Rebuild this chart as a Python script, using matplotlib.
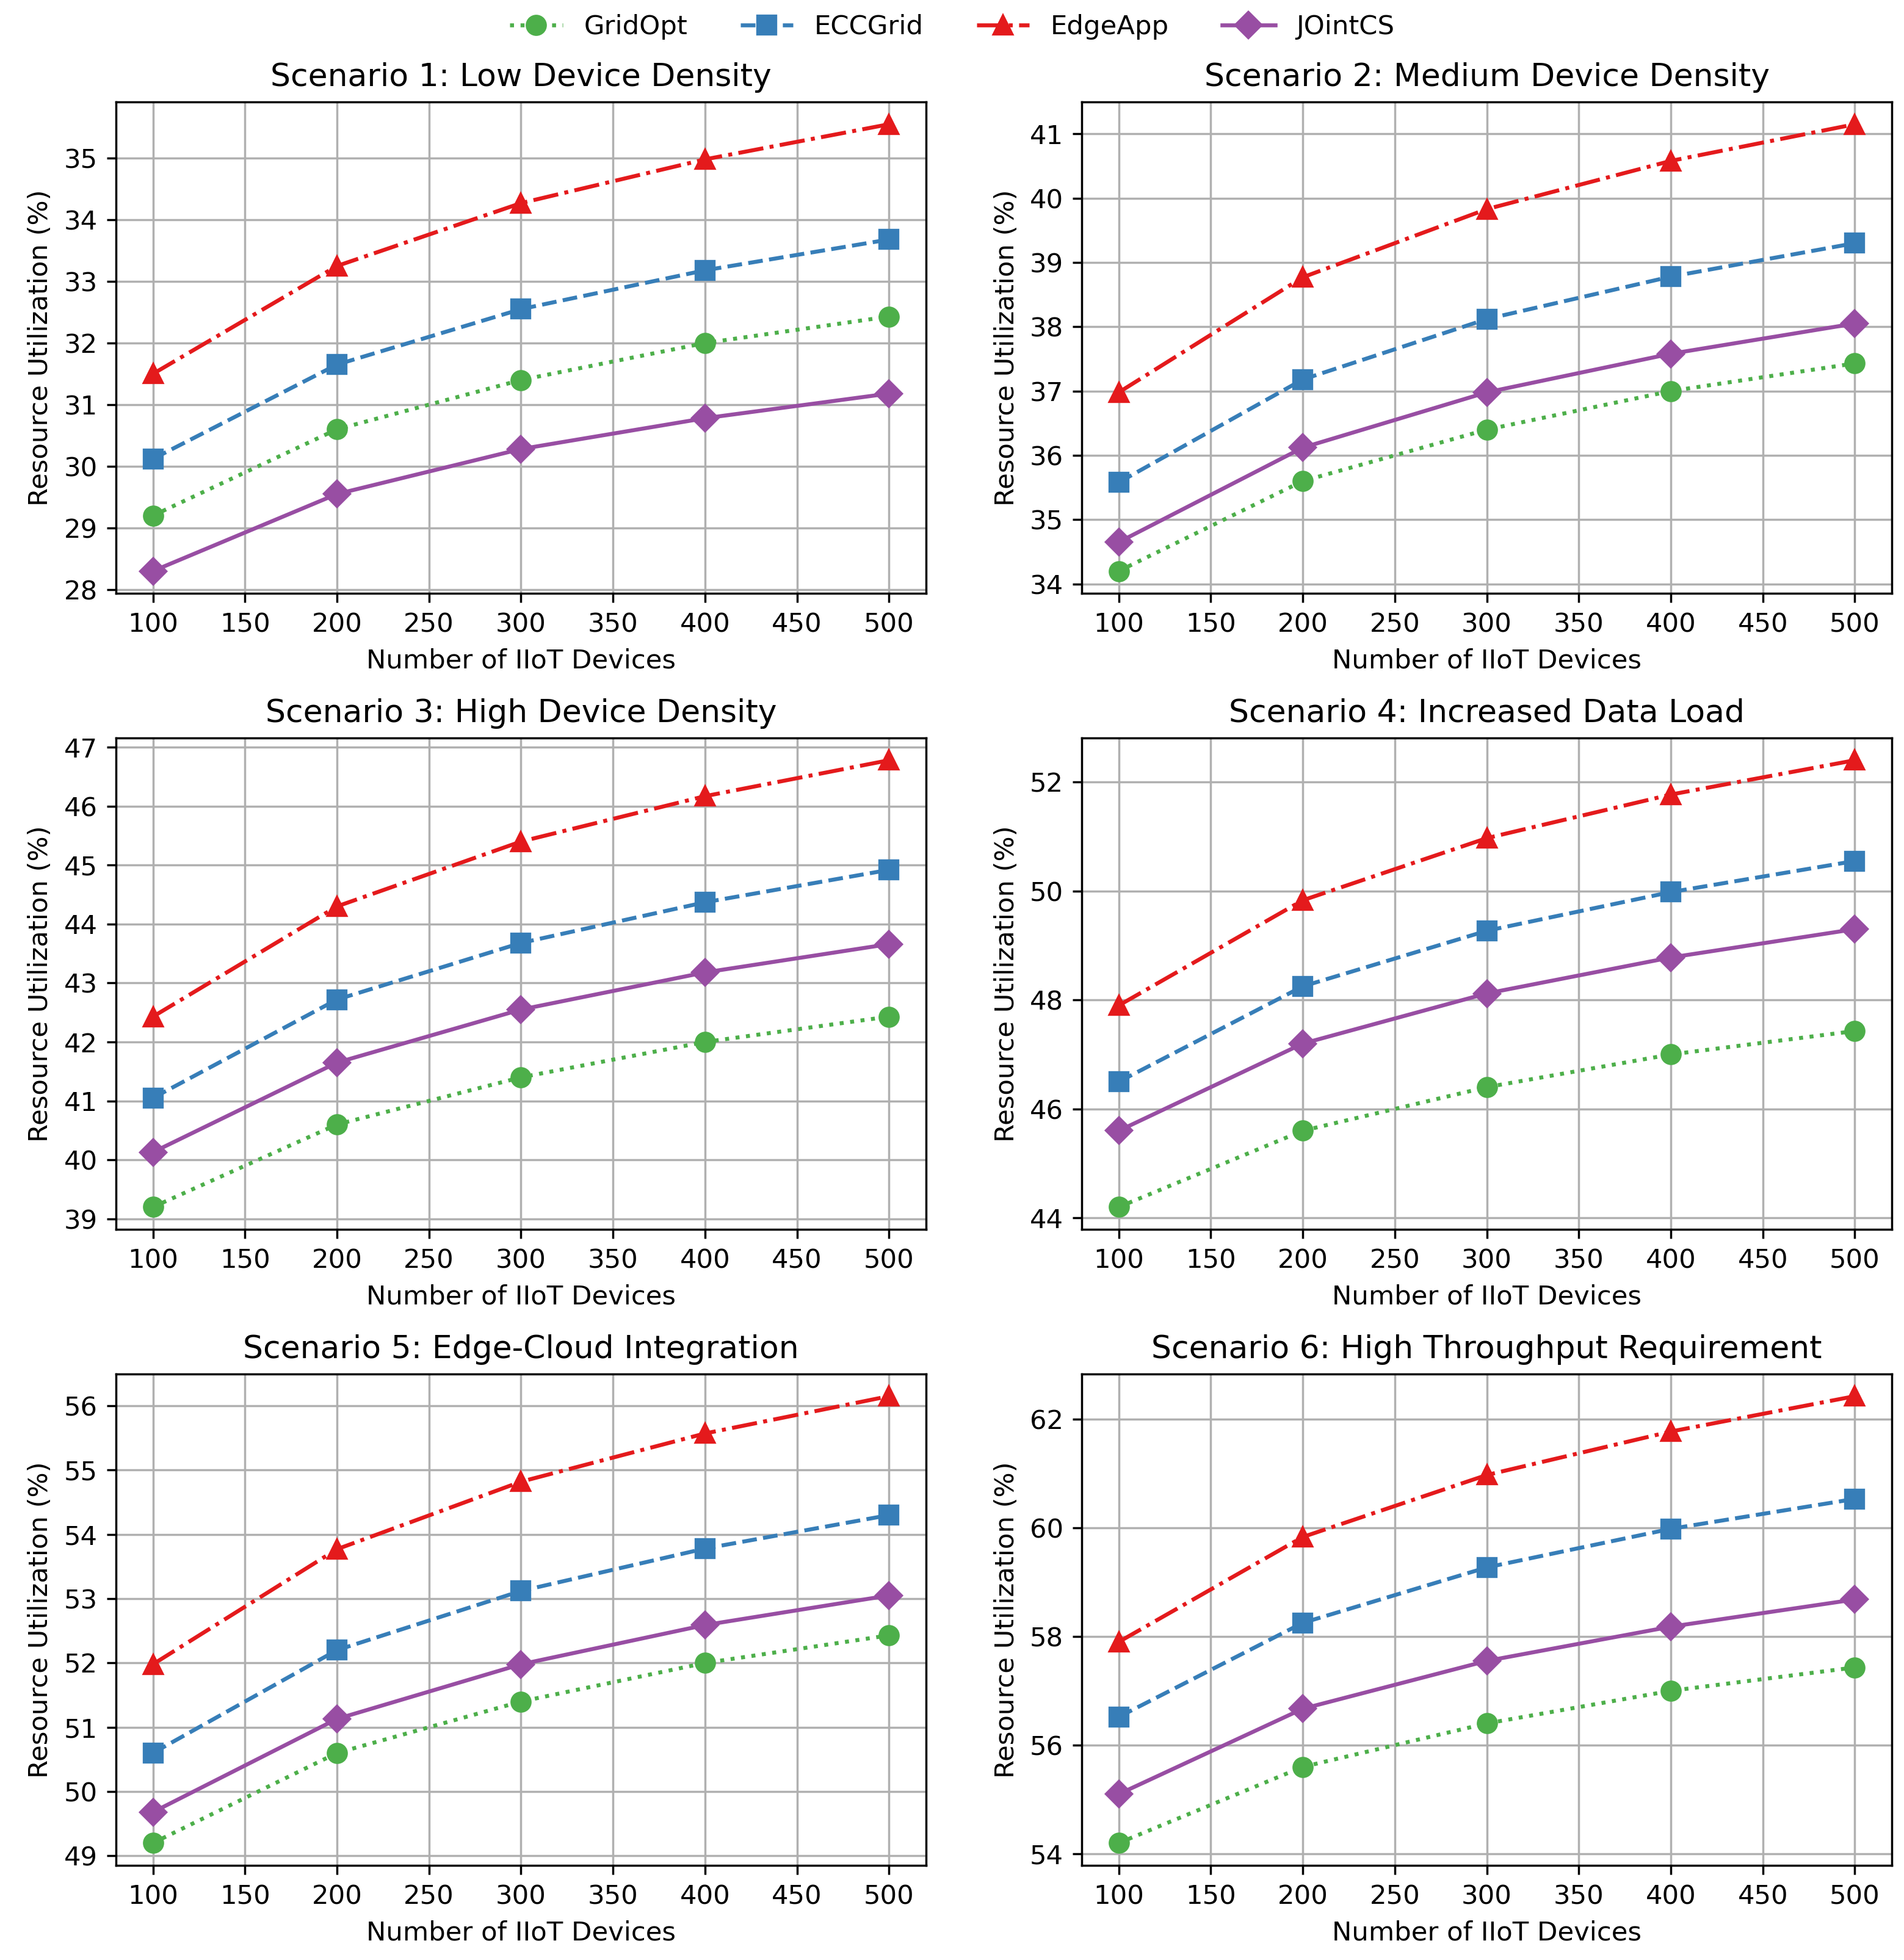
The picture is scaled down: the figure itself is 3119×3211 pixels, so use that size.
import numpy as np
import matplotlib
matplotlib.use("Agg")
import matplotlib.pyplot as plt

# data
devices = [100, 200, 300, 400, 500]
titles = [
    "Scenario 1: Low Device Density",
    "Scenario 2: Medium Device Density",
    "Scenario 3: High Device Density",
    "Scenario 4: Increased Data Load",
    "Scenario 5: Edge-Cloud Integration",
    "Scenario 6: High Throughput Requirement",
]

gridopt = [
    [29.2, 30.6, 31.4, 32.0, 32.43],
    [34.2, 35.6, 36.4, 37.0, 37.43],
    [39.2, 40.6, 41.4, 42.0, 42.43],
    [44.2, 45.6, 46.4, 47.0, 47.43],
    [49.2, 50.6, 51.4, 52.0, 52.43],
    [54.2, 55.6, 56.4, 57.0, 57.43],
]
eccgrid = [
    [30.12, 31.65, 32.55, 33.18, 33.68],
    [35.58, 37.18, 38.12, 38.78, 39.30],
    [41.05, 42.72, 43.68, 44.37, 44.92],
    [46.50, 48.25, 49.27, 49.98, 50.55],
    [50.60, 52.20, 53.12, 53.78, 54.30],
    [56.52, 58.25, 59.27, 59.98, 60.53],
]
edgeapp = [
    [31.50, 33.25, 34.27, 34.98, 35.55],
    [36.98, 38.77, 39.83, 40.58, 41.15],
    [42.43, 44.30, 45.40, 46.17, 46.78],
    [47.90, 49.83, 50.97, 51.77, 52.40],
    [51.98, 53.77, 54.82, 55.57, 56.15],
    [57.90, 59.83, 60.97, 61.77, 62.42],
]
jointcs = [
    [28.30, 29.55, 30.28, 30.78, 31.18],
    [34.65, 36.12, 36.98, 37.58, 38.05],
    [40.13, 41.65, 42.55, 43.18, 43.66],
    [45.60, 47.20, 48.12, 48.78, 49.30],
    [49.68, 51.13, 51.98, 52.59, 53.05],
    [55.10, 56.67, 57.55, 58.18, 58.68],
]

methods = ["GridOpt", "ECCGrid", "EdgeApp", "JOintCS"]
series = [gridopt, eccgrid, edgeapp, jointcs]
colors = ["#4daf4a", "#377eb8", "#e41a1c", "#984ea3"]
styles = [":", "--", "-.", "-"]
markers = ["o", "s", "^", "D"]

DPI = 312
fig, axes = plt.subplots(3, 2, figsize=(3119 / DPI, 3211 / DPI))
fig.subplots_adjust(left=0.061, right=0.9935, top=0.948, bottom=0.0483,
                    hspace=0.294, wspace=0.193)

for i, ax in enumerate(axes.flat):
    for name, data, c, ls, mk in zip(methods, series, colors, styles, markers):
        ax.plot(devices, data[i], linestyle=ls, marker=mk, color=c,
                linewidth=1.5, markersize=7, label=name)
    ax.set_title(titles[i], fontsize=12)
    ax.set_xlabel("Number of IIoT Devices")
    ax.set_ylabel("Resource Utilization (%)")
    ax.grid(True)

handles, labels = axes[0, 0].get_legend_handles_labels()
fig.legend(handles, labels, loc="upper center", ncol=4, frameon=False,
           bbox_to_anchor=(0.5, 1.005))

fig.savefig("out.png", dpi=DPI)
